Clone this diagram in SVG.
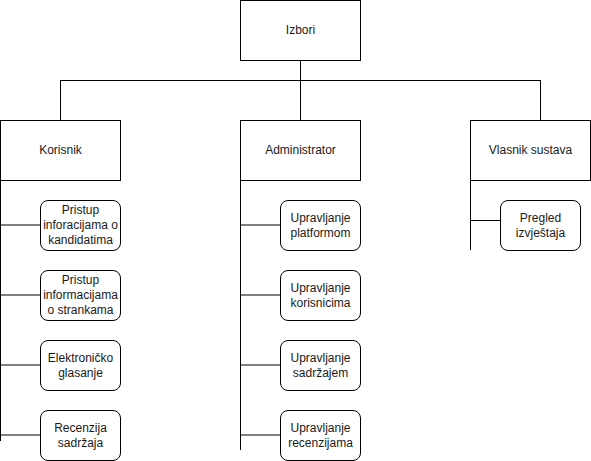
<svg xmlns="http://www.w3.org/2000/svg" width="591" height="461" viewBox="0 0 591 461">
<style>
.box{fill:#fff;stroke:#000;stroke-width:1}
.ln{fill:none;stroke:#000;stroke-width:1}
text{font-family:"Liberation Sans",Arial,sans-serif;font-size:12px;fill:#1a1a1a;text-anchor:middle}
</style>
<rect width="591" height="461" fill="#fff"/>
<g id="connectors">
<path class="ln" d="M300.5 60 V120"/>
<path class="ln" d="M60.5 80.5 H540.5"/>
<path class="ln" d="M60.5 80 V120"/>
<path class="ln" d="M540.5 80 V120"/>
<path class="ln" d="M0.5 180 V441"/>
<path class="ln" d="M240.5 180 V450"/>
<path class="ln" d="M470.5 180 V250"/>
<path class="ln" d="M0 225 H40 M0 295 H40 M0 365 H40 M0 435 H40"/>
<path class="ln" d="M240 225 H280 M240 295 H280 M240 365 H280 M240 435 H280"/>
<path class="ln" d="M470.5 220.5 H500.5"/>
</g>
<g id="izbori"><rect class="box" x="240.5" y="0.5" width="120" height="60"/><text x="300.5" y="34">Izbori</text></g>
<g id="korisnik"><rect class="box" x="0.5" y="120.5" width="120" height="60"/><text x="60.5" y="154">Korisnik</text></g>
<g id="administrator"><rect class="box" x="240.5" y="120.5" width="120" height="60"/><text x="300.5" y="154">Administrator</text></g>
<g id="vlasnik"><rect class="box" x="470.5" y="120.5" width="120" height="60"/><text x="530.5" y="154">Vlasnik sustava</text></g>
<g id="k1"><rect class="box" x="40.5" y="200.5" width="80" height="50" rx="7.5"/><text x="80.5" y="214">Pristup</text><text x="80.5" y="229">inforacijama o</text><text x="80.5" y="244">kandidatima</text></g>
<g id="k2"><rect class="box" x="40.5" y="270.5" width="80" height="50" rx="7.5"/><text x="80.5" y="284">Pristup</text><text x="80.5" y="299">informacijama</text><text x="80.5" y="314">o strankama</text></g>
<g id="k3"><rect class="box" x="40.5" y="340.5" width="80" height="50" rx="7.5"/><text x="80.5" y="361.5">Elektroničko</text><text x="80.5" y="376.5">glasanje</text></g>
<g id="k4"><rect class="box" x="40.5" y="410.5" width="80" height="50" rx="7.5"/><text x="80.5" y="431.5">Recenzija</text><text x="80.5" y="446.5">sadržaja</text></g>
<g id="a1"><rect class="box" x="280.5" y="200.5" width="80" height="50" rx="7.5"/><text x="320.5" y="221.5">Upravljanje</text><text x="320.5" y="236.5">platformom</text></g>
<g id="a2"><rect class="box" x="280.5" y="270.5" width="80" height="50" rx="7.5"/><text x="320.5" y="291.5">Upravljanje</text><text x="320.5" y="306.5">korisnicima</text></g>
<g id="a3"><rect class="box" x="280.5" y="340.5" width="80" height="50" rx="7.5"/><text x="320.5" y="361.5">Upravljanje</text><text x="320.5" y="376.5">sadržajem</text></g>
<g id="a4"><rect class="box" x="280.5" y="410.5" width="80" height="50" rx="7.5"/><text x="320.5" y="431.5">Upravljanje</text><text x="320.5" y="446.5">recenzijama</text></g>
<g id="v1"><rect class="box" x="500.5" y="200.5" width="80" height="50" rx="7.5"/><text x="540.5" y="221.5">Pregled</text><text x="540.5" y="236.5">izvještaja</text></g>
</svg>
